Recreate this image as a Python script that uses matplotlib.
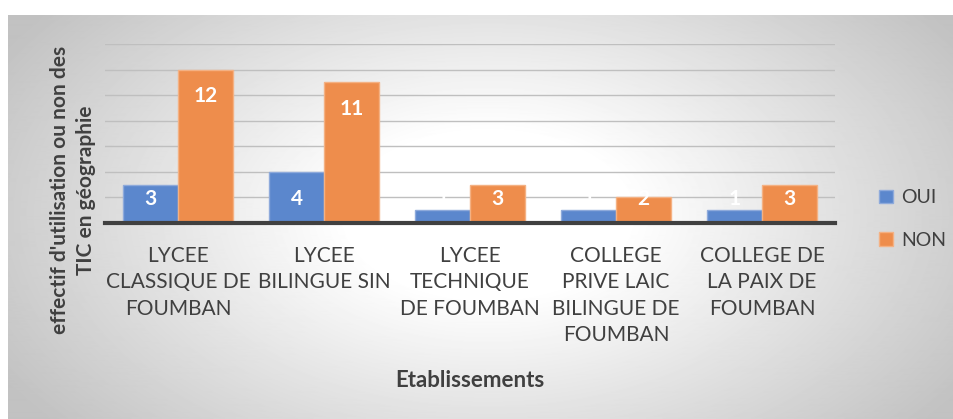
import numpy as np
import matplotlib
matplotlib.use('Agg')
import matplotlib.pyplot as plt
from matplotlib.patches import Patch

# donnees
etablissements = ['LYCEE\nCLASSIQUE DE\nFOUMBAN', 'LYCEE\nBILINGUE SIN',
                  'LYCEE\nTECHNIQUE\nDE FOUMBAN', 'COLLEGE\nPRIVE LAIC\nBILINGUE DE\nFOUMBAN',
                  'COLLEGE DE\nLA PAIX DE\nFOUMBAN']
oui = [3, 4, 1, 1, 1]
non = [12, 11, 3, 2, 3]

bleu = '#5b87cd'
orange = '#ee8d4c'
gris_texte = '#404040'

plt.rcParams['font.family'] = ['Lato', 'DejaVu Sans']

fig = plt.figure(figsize=(9.54, 4.19), dpi=100)

# fond degrade (zone du graphique)
bg = fig.add_axes([8 / 954, 0, 946 / 954, 404 / 419], zorder=-10)
yy, xx = np.mgrid[0:404, 0:946]
d = np.sqrt(((xx - 480) / 560.0) ** 2 + ((yy - 200) / 330.0) ** 2)
val = 1 - 0.24 * np.clip((d - 0.25) / 0.75, 0, 1)
bg.imshow(val, cmap='gray', vmin=0, vmax=1, aspect='auto', interpolation='bilinear')
bg.set_axis_off()

ax = fig.add_axes([105 / 954, 1 - 223 / 419, 730 / 954, 179 / 419])
ax.patch.set_alpha(0)

x = np.arange(len(etablissements))
w = 0.375
b1 = ax.bar(x - w / 2, oui, w, color=bleu, edgecolor='#8eaadb', linewidth=1, label='OUI', zorder=3)
b2 = ax.bar(x + w / 2, non, w, color=orange, edgecolor='#f4b183', linewidth=1, label='NON', zorder=3)

# etiquettes de valeurs (a l'interieur, en haut)
for barres, vals in [(b1, oui), (b2, non)]:
    for rect, v in zip(barres, vals):
        y_txt = max(v - 2.1, 1.85)
        ax.text(rect.get_x() + rect.get_width() / 2, y_txt, str(v), ha='center', va='center',
                color='white', fontsize=15, fontweight='bold', zorder=5)

ax.set_xlim(-0.5, 4.5)
ax.set_ylim(0, 14)
ax.set_yticks(np.arange(2, 15, 2))
ax.yaxis.grid(True, color='#bfbfbf', linewidth=1)
ax.set_axisbelow(True)
ax.tick_params(axis='y', left=False, labelleft=False)
ax.tick_params(axis='x', bottom=False, pad=13)
ax.set_xticks(x)
ax.set_xticklabels(etablissements, fontsize=15, color=gris_texte, linespacing=1.4, va='top')
for s in ['left', 'right', 'top']:
    ax.spines[s].set_visible(False)
ax.spines['bottom'].set_color('#404040')
ax.spines['bottom'].set_linewidth(3)
ax.spines['bottom'].set_zorder(4)

fig.text(470 / 954, 1 - 380 / 419, 'Etablissements', ha='center', va='center',
         fontsize=16, fontweight='bold', color=gris_texte)
fig.text(73 / 954, 1 - 190 / 419, "effectif d'utilisation ou non des\nTIC en géographie",
         rotation=90, ha='center', va='center', fontsize=15, fontweight='bold',
         color=gris_texte, linespacing=1.4)

handles = [Patch(facecolor=bleu, edgecolor='#8eaadb'), Patch(facecolor=orange, edgecolor='#f4b183')]
fig.legend(handles, ['OUI', 'NON'], loc='center left', bbox_to_anchor=(862 / 954, 1 - 219 / 419),
           frameon=False, fontsize=14, handlelength=0.7, handleheight=0.7, handletextpad=0.4,
           labelspacing=1.3, labelcolor=gris_texte)

fig.savefig('out.png', dpi=100)
